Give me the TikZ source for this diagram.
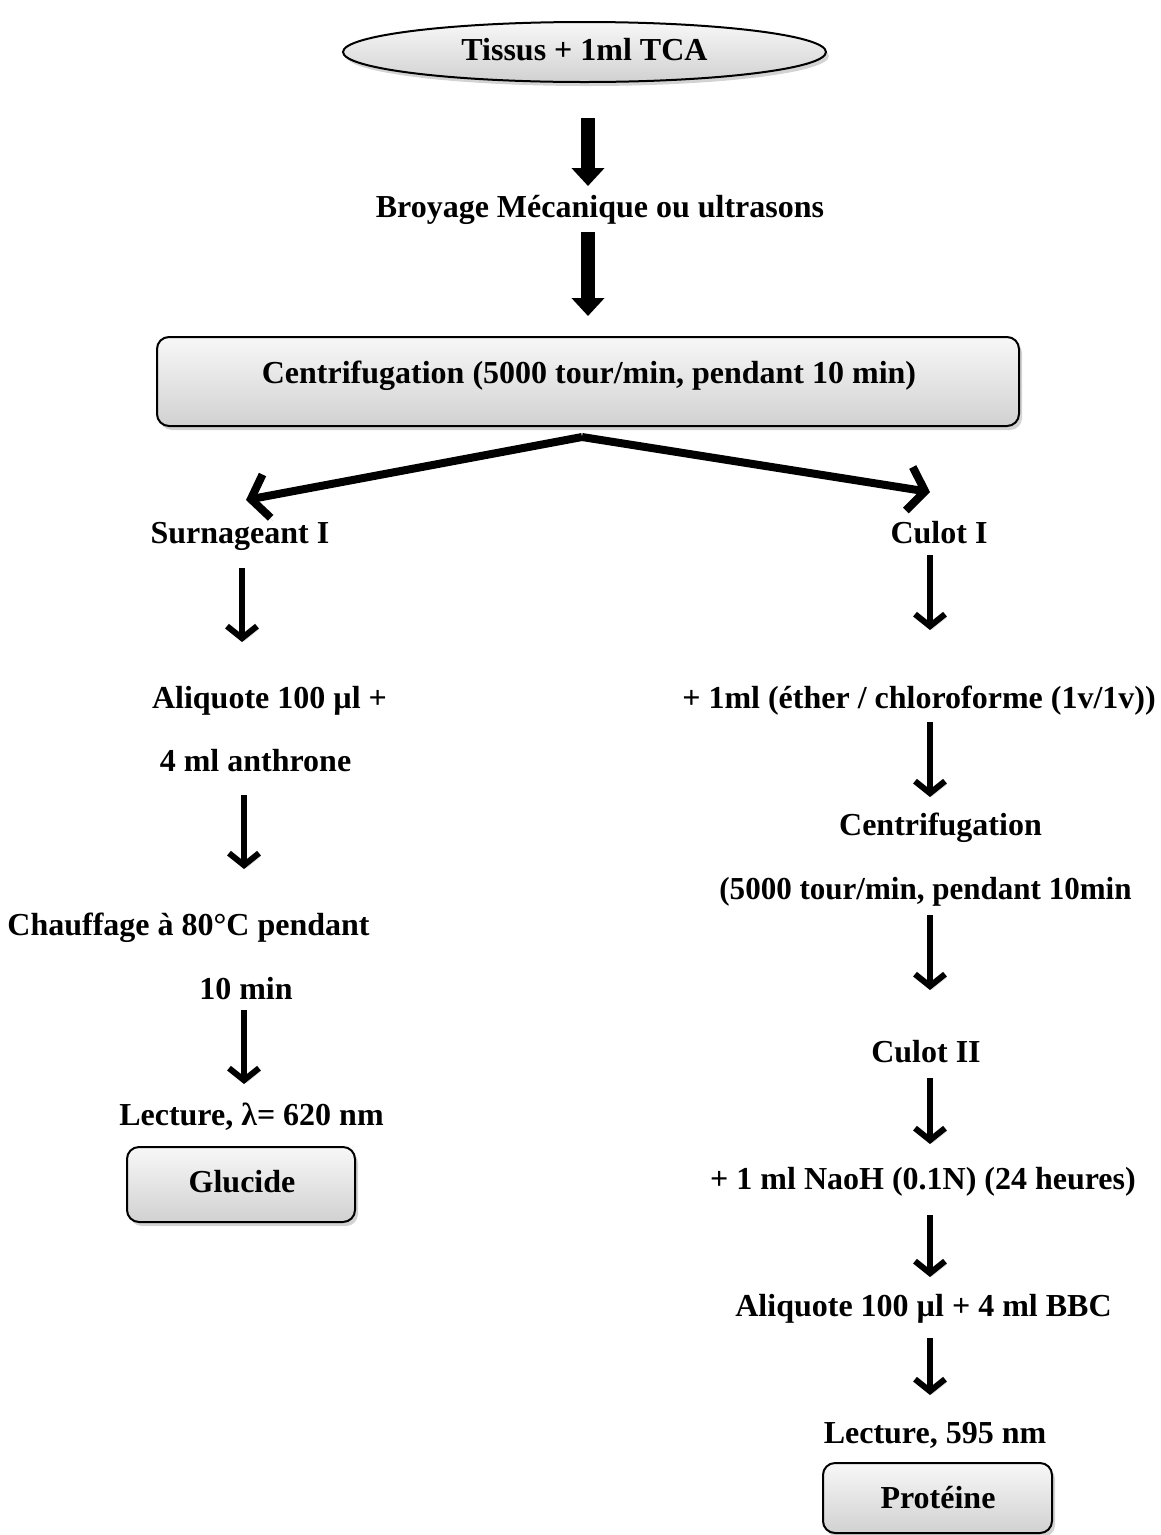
\documentclass[tikz,border=0pt]{standalone}
\usepackage{fontspec}
\setmainfont{Liberation Serif}
\usetikzlibrary{arrows.meta,shadows,shapes.geometric}
\begin{document}
\begin{tikzpicture}[x=1pt,y=-1pt,
  font=\fontsize{32}{38}\selectfont\bfseries,
  lbl/.style={anchor=base, inner sep=0pt},
  shaded/.style={draw=black, line width=2pt, top color=gray!6, bottom color=gray!36,
    drop shadow={shadow xshift=3pt,shadow yshift=-4pt,opacity=0.35}},
  roundbox/.style={shaded, rounded corners=12pt, inner sep=0pt},
  flowarrow/.style={line width=6pt, -{Straight Barb[length=12pt,width=30pt,line width=6pt]},
    preaction={draw=black!18, transform canvas={shift={(2,3)}}}},
  bigarrow/.style={line width=14pt, -{Triangle[length=18pt,width=32pt]}},
  brancharrow/.style={line width=8pt, -{Straight Barb[length=16pt,width=44pt,line width=8pt]},
    preaction={draw=black!18, transform canvas={shift={(2,3)}}}}]
\useasboundingbox (0,0) rectangle (1161,1535);

% top
\node[shaded, ellipse, minimum width=483, minimum height=60, inner sep=0pt] (tissusbox) at (584.5,52) {};
\node[lbl] (tissus) at (584.5,60) {Tissus + 1ml TCA};
\node[lbl] (broyage) at (600,217) {Broyage Mécanique ou ultrasons};
\node[roundbox, minimum width=862, minimum height=89] (cbox) at (588,381.5) {};
\node[lbl] (centri) at (589,383) {Centrifugation (5000 tour/min, pendant 10 min)};

\coordinate (b1s) at (588,118);
\coordinate (b1e) at (588,186);
\coordinate (b2s) at (588,232);
\coordinate (b2e) at (588,316);
\draw[bigarrow] (b1s) -- (b1e);
\draw[bigarrow] (b2s) -- (b2e);

\coordinate (apex) at (582,437);
\coordinate (lt) at (246,500);
\coordinate (rt) at (930,492);
\draw[brancharrow] (apex) -- (lt);
\draw[brancharrow] (apex) -- (rt);

% left branch
\node[lbl] (surn) at (240,543) {Surnageant I};
\node[lbl] (aliq1) at (269.5,708) {Aliquote 100 µl +};
\node[lbl] (anth) at (255.5,771) {4 ml anthrone};
\node[lbl] (chauf) at (188.5,935) {Chauffage à 80°C pendant};
\node[lbl] (tenmin) at (246,999) {10 min};
\node[lbl] (lect1) at (251.5,1125) {Lecture, λ= 620 nm};
\node[roundbox, minimum width=228, minimum height=75] (glucbox) at (241,1184.5) {};
\node[lbl] (gluc) at (242,1192) {Glucide};

\coordinate (l1s) at (242,568);
\coordinate (l1e) at (242,642);
\coordinate (l2s) at (244,795);
\coordinate (l2e) at (244,869);
\coordinate (l3s) at (244,1010);
\coordinate (l3e) at (244,1084);
\draw[flowarrow] (l1s) -- (l1e);
\draw[flowarrow] (l2s) -- (l2e);
\draw[flowarrow] (l3s) -- (l3e);

% right branch
\node[lbl] (culot) at (939,543) {Culot I};
\node[lbl] (ether) at (919,708) {+ 1ml (éther / chloroforme (1v/1v))};
\node[lbl] (centri2) at (940.5,835) {Centrifugation};
\node[lbl, xscale=0.97] (vit2) at (925.5,899) {(5000 tour/min, pendant 10min};
\node[lbl] (culot2) at (926,1062) {Culot II};
\node[lbl] (naoh) at (923,1189) {+ 1 ml NaoH (0.1N) (24 heures)};
\node[lbl] (aliq2) at (923.5,1316) {Aliquote 100 µl + 4 ml BBC};
\node[lbl] (lect2) at (935,1443) {Lecture, 595 nm};
\node[roundbox, minimum width=229, minimum height=70] (protbox) at (937.5,1498) {};
\node[lbl] (prot) at (938,1508) {Protéine};

\coordinate (r1s) at (930,555);
\coordinate (r1e) at (930,630);
\coordinate (r2s) at (930,722);
\coordinate (r2e) at (930,797);
\coordinate (r3s) at (930,915);
\coordinate (r3e) at (930,990);
\coordinate (r4s) at (930,1078);
\coordinate (r4e) at (930,1144);
\coordinate (r5s) at (930,1215);
\coordinate (r5e) at (930,1277);
\coordinate (r6s) at (930,1338);
\coordinate (r6e) at (930,1395);
\foreach \k in {1,...,6} {\draw[flowarrow] (r\k s) -- (r\k e);}
\end{tikzpicture}
\end{document}
